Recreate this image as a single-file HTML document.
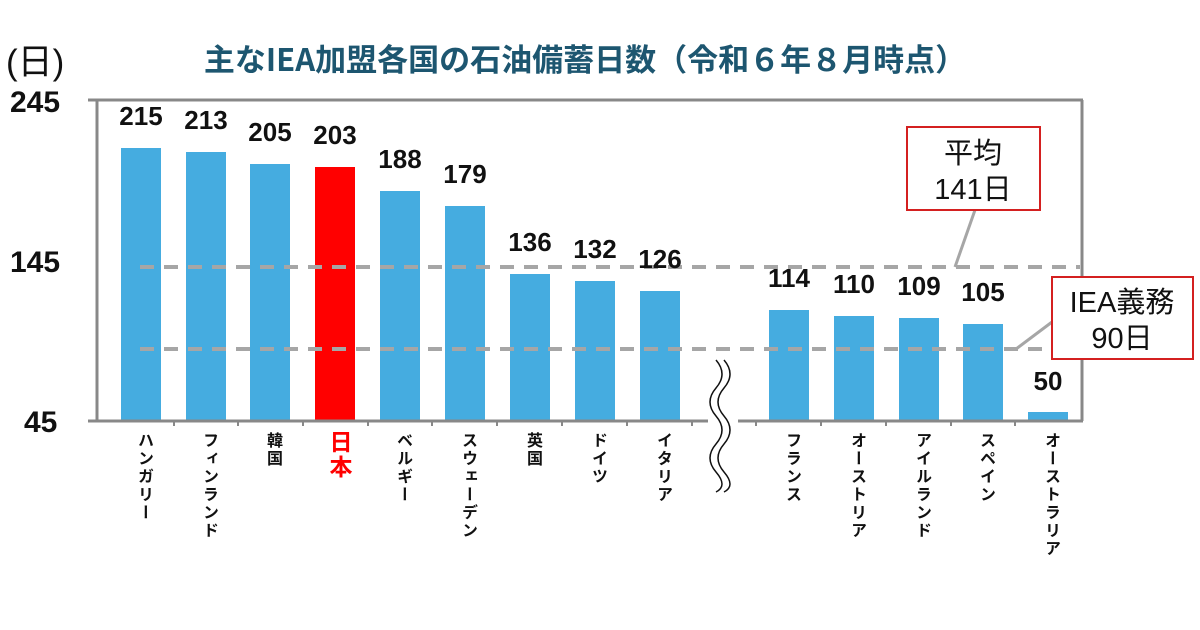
<!DOCTYPE html>
<html><head><meta charset="utf-8"><style>
body{margin:0;width:1200px;height:630px;background:#fff;overflow:hidden;font-family:"Liberation Sans","Noto Sans CJK JP",sans-serif;}
.v{position:absolute;writing-mode:vertical-rl;font-size:16px;font-weight:bold;color:#111;letter-spacing:2px;}
</style></head><body>
<svg width="1200" height="630" style="position:absolute;left:0;top:0" font-family="Liberation Sans, Noto Sans CJK JP, sans-serif">
<text x="6" y="74" font-size="35" fill="#111">(日)</text>
<text x="585" y="71" font-size="31" font-weight="bold" fill="#1d5670" text-anchor="middle" font-family="Noto Sans CJK JP, sans-serif">主なIEA加盟各国の石油備蓄日数（令和６年８月時点）</text>
<g font-size="30" font-weight="bold" fill="#111">
<text x="10" y="112">245</text><text x="10" y="272">145</text><text x="24" y="432">45</text></g>
<g fill="#45ace0">
<rect x="121" y="148" width="40" height="272"/><rect x="186" y="152" width="40" height="268"/>
<rect x="250" y="164" width="40" height="256"/><rect x="315" y="167" width="40" height="253" fill="#ff0000"/>
<rect x="380" y="191" width="40" height="229"/><rect x="445" y="206" width="40" height="214"/>
<rect x="510" y="274" width="40" height="146"/><rect x="575" y="281" width="40" height="139"/>
<rect x="640" y="291" width="40" height="129"/><rect x="769" y="310" width="40" height="110"/>
<rect x="834" y="316" width="40" height="104"/><rect x="899" y="318" width="40" height="102"/>
<rect x="963" y="324" width="40" height="96"/><rect x="1028" y="412" width="40" height="8"/></g>
<g stroke="#a6a6a6" stroke-width="4" stroke-dasharray="14,10" fill="none">
<line x1="140" y1="267" x2="1080" y2="267"/><line x1="140" y1="349" x2="1050" y2="349"/></g>
<g stroke="#a6a6a6" stroke-width="3" fill="none">
<polyline points="955,267 975,210"/><polyline points="1016,349 1052,322"/></g>
<g stroke="#888" stroke-width="3" fill="none">
<line x1="88" y1="100" x2="1083" y2="100"/><line x1="97" y1="100" x2="97" y2="421"/>
<line x1="1082" y1="100" x2="1082" y2="421"/><line x1="88" y1="421" x2="1083" y2="421"/></g>
<g stroke="#888" stroke-width="2">
<line x1="174" y1="421" x2="174" y2="426"/><line x1="238" y1="421" x2="238" y2="426"/><line x1="303" y1="421" x2="303" y2="426"/><line x1="368" y1="421" x2="368" y2="426"/><line x1="432" y1="421" x2="432" y2="426"/><line x1="497" y1="421" x2="497" y2="426"/><line x1="562" y1="421" x2="562" y2="426"/><line x1="627" y1="421" x2="627" y2="426"/><line x1="692" y1="421" x2="692" y2="426"/><line x1="756" y1="421" x2="756" y2="426"/><line x1="821" y1="421" x2="821" y2="426"/><line x1="886" y1="421" x2="886" y2="426"/><line x1="951" y1="421" x2="951" y2="426"/><line x1="1015" y1="421" x2="1015" y2="426"/></g>
<rect x="708" y="355" width="30" height="140" fill="#fff"/>
<g stroke="#111" stroke-width="1.5" fill="none">
<path d="M716,360 q12,14 0,28 q-12,14 0,28 q12,14 0,28 q-12,14 0,28 q12,14 0,20"/>
<path d="M724,360 q12,14 0,28 q-12,14 0,28 q12,14 0,28 q-12,14 0,28 q12,14 0,20"/></g>
<g font-size="26" font-weight="bold" fill="#111" text-anchor="middle">
<text x="141" y="125">215</text><text x="206" y="129">213</text><text x="270" y="141">205</text><text x="335" y="144">203</text>
<text x="400" y="168">188</text><text x="465" y="183">179</text><text x="530" y="251">136</text><text x="595" y="258">132</text>
<text x="660" y="268">126</text><text x="789" y="287">114</text><text x="854" y="293">110</text><text x="919" y="295">109</text>
<text x="983" y="301">105</text><text x="1048" y="390">50</text></g>
<rect x="907" y="127" width="133" height="83" fill="#fff" stroke="#d42020" stroke-width="2"/>
<text x="973" y="163" font-size="29" text-anchor="middle" fill="#111">平均</text>
<text x="973" y="199" font-size="29" text-anchor="middle" fill="#111">141日</text>
<rect x="1052" y="277" width="141" height="82" fill="#fff" stroke="#d42020" stroke-width="2"/>
<text x="1122" y="312" font-size="29" text-anchor="middle" fill="#111">IEA義務</text>
<text x="1122" y="348" font-size="29" text-anchor="middle" fill="#111">90日</text>
</svg>
<div class="v" style="left:131px;top:432px">ハンガリー</div>
<div class="v" style="left:196px;top:432px">フィンランド</div>
<div class="v" style="left:260px;top:432px">韓国</div>
<div class="v" style="left:322px;top:430px;font-size:23px;color:#ff0000">日本</div>
<div class="v" style="left:390px;top:432px">ベルギー</div>
<div class="v" style="left:455px;top:432px">スウェーデン</div>
<div class="v" style="left:520px;top:432px">英国</div>
<div class="v" style="left:585px;top:432px">ドイツ</div>
<div class="v" style="left:650px;top:432px">イタリア</div>
<div class="v" style="left:779px;top:432px">フランス</div>
<div class="v" style="left:844px;top:432px">オーストリア</div>
<div class="v" style="left:909px;top:432px">アイルランド</div>
<div class="v" style="left:973px;top:432px">スペイン</div>
<div class="v" style="left:1038px;top:432px">オーストラリア</div>
</body></html>
